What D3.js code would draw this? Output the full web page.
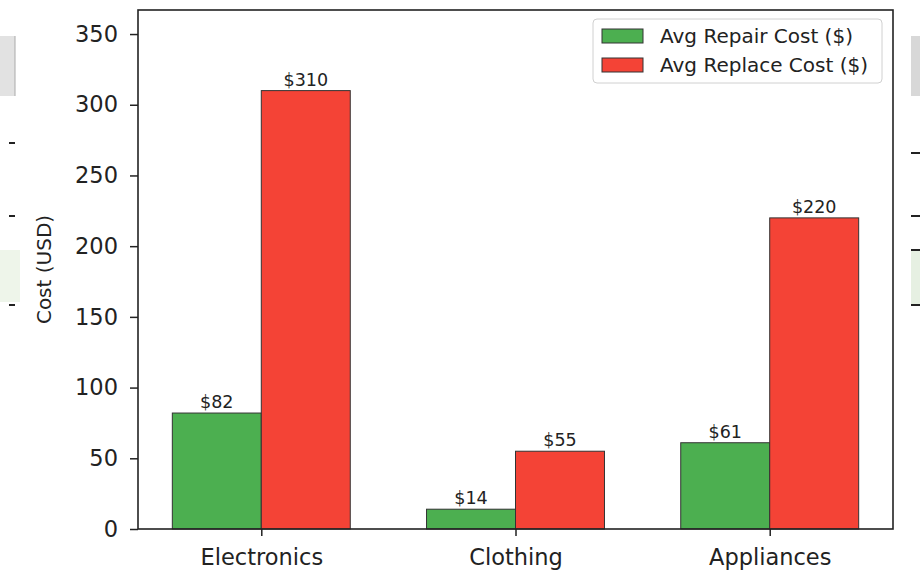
<!DOCTYPE html>
<html>
<head>
<meta charset="utf-8">
<script src="https://cdn.jsdelivr.net/npm/d3@7"></script>
<style>
  body { margin: 0; background: #fff; }
  svg { display: block; font-family: "DejaVu Sans", sans-serif; }
</style>
</head>
<body>
<svg width="920" height="575"></svg>
<script>
const categories = ["Electronics", "Clothing", "Appliances"];
const repairCost = [82, 14, 61];
const replaceCost = [310, 55, 220];
const series = [
  { name: "Avg Repair Cost ($)", values: repairCost, color: "#4caf50" },
  { name: "Avg Replace Cost ($)", values: replaceCost, color: "#f44336" }
];
const yTicks = [0, 50, 100, 150, 200, 250, 300, 350];

const svg = d3.select("svg");
const plotL = 138, plotR = 893, plotT = 10, plotB = 529;
const barW = 0.35;

// stray bits of the surrounding screenshot at the edges
const deco = svg.append("g");
deco.append("rect").attr("x", 0).attr("y", 36).attr("width", 15).attr("height", 60).attr("fill", "#e2e2e2");
deco.append("line").attr("x1", 15).attr("x2", 15).attr("y1", 36).attr("y2", 96).attr("stroke", "#aaa");
deco.append("rect").attr("x", 0).attr("y", 250).attr("width", 20).attr("height", 52).attr("fill", "#eef5ea");
[143, 216, 305].forEach(v => deco.append("line").attr("x1", 9).attr("x2", 15).attr("y1", v).attr("y2", v).attr("stroke", "#222").attr("stroke-width", 2));
deco.append("rect").attr("x", 911).attr("y", 36).attr("width", 9).attr("height", 60).attr("fill", "#d8d8d8");
deco.append("rect").attr("x", 911).attr("y", 250).attr("width", 9).attr("height", 55).attr("fill", "#e6f0e2");
[153, 216, 250, 305].forEach(v => deco.append("line").attr("x1", 911).attr("x2", 920).attr("y1", v).attr("y2", v).attr("stroke", "#222").attr("stroke-width", 2));

const x = d3.scaleLinear().domain([-0.485, 2.485]).range([plotL, plotR]);
const y = d3.scaleLinear().domain([0, 367]).range([plotB, plotT]);

// bars
series.forEach((s, si) => {
  const g = svg.append("g");
  g.selectAll("rect")
    .data(s.values)
    .join("rect")
    .attr("x", (d, i) => x(i - barW + si * barW))
    .attr("width", x(barW) - x(0))
    .attr("y", d => y(d))
    .attr("height", d => y(0) - y(d))
    .attr("fill", s.color)
    .attr("stroke", "#333")
    .attr("stroke-width", 1);
  g.selectAll("text")
    .data(s.values)
    .join("text")
    .attr("x", (d, i) => x(i - barW / 2 + si * barW))
    .attr("y", d => y(d) - 5)
    .attr("text-anchor", "middle")
    .attr("font-size", 17.5)
    .attr("fill", "#222")
    .text(d => "$" + d);
});

// axes
const yAxis = svg.append("g")
  .attr("transform", `translate(${plotL},0)`)
  .call(d3.axisLeft(y).tickValues(yTicks).tickSize(8).tickPadding(12));
const xAxis = svg.append("g")
  .attr("transform", `translate(0,${plotB})`)
  .call(d3.axisBottom(x).tickValues(categories.map((c, i) => i)).tickFormat(i => categories[i]).tickSize(7).tickPadding(13));
[yAxis, xAxis].forEach(a => {
  a.select(".domain").remove();
  a.selectAll("line").attr("stroke", "#222").attr("stroke-width", 1.5);
  a.selectAll("text").attr("font-size", 22.5).attr("fill", "#222").attr("font-family", "DejaVu Sans");
});

svg.append("rect")
  .attr("x", plotL).attr("y", plotT)
  .attr("width", plotR - plotL).attr("height", plotB - plotT)
  .attr("fill", "none").attr("stroke", "#222").attr("stroke-width", 1.6);

svg.append("text")
  .attr("transform", `translate(51,${(plotT + plotB) / 2}) rotate(-90)`)
  .attr("text-anchor", "middle")
  .attr("font-size", 20)
  .attr("fill", "#222")
  .text("Cost (USD)");

// legend
const legend = svg.append("g").attr("transform", "translate(593,19)");
legend.append("rect")
  .attr("width", 289).attr("height", 64).attr("rx", 4)
  .attr("fill", "#fff").attr("stroke", "#d0d0d0");
const item = legend.selectAll("g.item")
  .data(series)
  .join("g")
  .attr("class", "item")
  .attr("transform", (d, i) => `translate(9,${10 + i * 29})`);
item.append("rect")
  .attr("width", 41).attr("height", 14)
  .attr("fill", d => d.color).attr("stroke", "#333");
item.append("text")
  .attr("x", 58).attr("y", 14)
  .attr("font-size", 20)
  .attr("fill", "#222")
  .text(d => d.name);
</script>
</body>
</html>
